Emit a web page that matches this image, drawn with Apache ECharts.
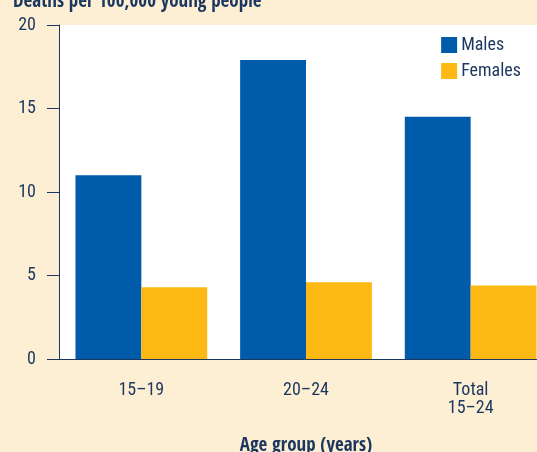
<!DOCTYPE html>
<html><head><meta charset="utf-8">
<script src="https://cdn.jsdelivr.net/npm/echarts@6/dist/echarts.min.js"></script>
<style>html,body{margin:0;padding:0;background:#fdefd3;}#c{width:537px;height:452px;}</style>
</head><body><div id="c"></div>
<script>
var categories = ['15–19', '20–24', 'Total\n15–24'];
var males = [11.0, 17.9, 14.5];
var females = [4.3, 4.6, 4.4];
var yTicks = [0, 5, 10, 15, 20];

var navy = '#1b365f';
var font = '"Roboto Condensed", "DejaVu Sans Condensed", sans-serif';
var boldFont = '"Open Sans Condensed", "Roboto Condensed", sans-serif';
var chart = echarts.init(document.getElementById('c'));
chart.setOption({
  backgroundColor: '#fdefd3',
  animation: false,
  title: {
    text: 'Deaths per 100,000 young people',
    left: 8, top: -12,
    textStyle: { fontFamily: boldFont, fontSize: 19, fontWeight: 'bold', color: navy }
  },
  legend: {
    right: 11, top: 31, orient: 'vertical',
    itemWidth: 16, itemHeight: 16, itemGap: 8,
    icon: 'rect',
    textStyle: { fontFamily: font, fontSize: 18, color: navy, padding: [0,0,0,-1] },
    data: ['Males', 'Females']
  },
  grid: {
    left: 59, top: 25, bottom: 93, right: -16,
    outerBoundsMode: 'none', containLabel: false,
    show: true, backgroundColor: '#ffffff', borderWidth: 0
  },
  xAxis: {
    type: 'category', data: categories,
    name: 'Age group (years)', nameLocation: 'middle', nameGap: 78,
    nameTextStyle: { fontFamily: boldFont, fontSize: 19, fontWeight: 'bold', color: navy },
    axisLine: { lineStyle: { color: navy, width: 1 } },
    axisTick: { show: false },
    axisLabel: { fontFamily: font, fontSize: 18, color: navy, margin: 22, lineHeight: 18 }
  },
  yAxis: {
    type: 'value', min: yTicks[0], max: yTicks[yTicks.length-1], interval: 5,
    axisLine: { show: true, lineStyle: { color: navy, width: 1 } },
    axisTick: { show: true, length: 12, lineStyle: { color: navy } },
    splitLine: { show: false },
    axisLabel: { fontFamily: font, fontSize: 18, color: navy, margin: 23 }
  },
  series: [
    { name: 'Males', type: 'bar', data: males, itemStyle: { color: '#005baa' }, barGap: '0%', barCategoryGap: '20%' },
    { name: 'Females', type: 'bar', data: females, itemStyle: { color: '#fdb913' } }
  ]
});
</script></body></html>
